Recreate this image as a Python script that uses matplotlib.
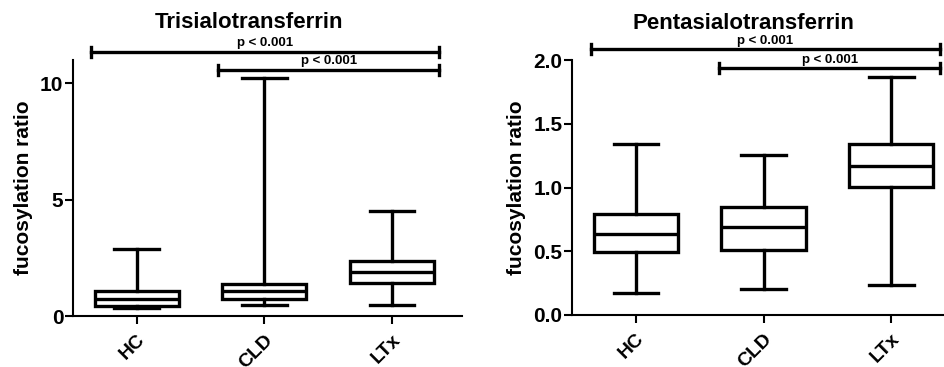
import matplotlib
matplotlib.use("Agg")
import matplotlib.pyplot as plt

plt.rcParams['font.family'] = ['Liberation Sans', 'DejaVu Sans']
plt.rcParams['font.weight'] = 'bold'

groups = ["HC", "CLD", "LTx"]

# Trisialotransferrin: whisker low, q1, median, q3, whisker high
tri_lo = [0.33, 0.46, 0.47]
tri_q1 = [0.44, 0.73, 1.40]
tri_med = [0.73, 1.07, 1.88]
tri_q3 = [1.09, 1.39, 2.35]
tri_hi = [2.87, 10.21, 4.53]

# Pentasialotransferrin
pen_lo = [0.175, 0.207, 0.235]
pen_q1 = [0.497, 0.51, 1.001]
pen_med = [0.635, 0.693, 1.171]
pen_q3 = [0.79, 0.85, 1.341]
pen_hi = [1.341, 1.252, 1.864]

# significance bars: (x start, x end, y, label)
tri_sig = [(0.64, 3.37, 11.36, "p < 0.001"), (1.64, 3.37, 10.57, "p < 0.001")]
pen_sig = [(0.65, 3.38, 2.084, "p < 0.001"), (1.655, 3.38, 1.935, "p < 0.001")]

LW = 2.4
SW = 1.5


def draw_panel(ax, lo, q1, med, q3, hi, sig, title, ylim, yticks, ytl, title_x, cap_h):
    stats = []
    for i, g in enumerate(groups):
        stats.append(dict(label=g, whislo=lo[i], q1=q1[i], med=med[i],
                          q3=q3[i], whishi=hi[i]))
    props = dict(color='black', linewidth=LW)
    ax.bxp(stats, positions=[1, 2, 3], widths=0.66, capwidths=0.35,
           showfliers=False, patch_artist=True,
           boxprops=dict(facecolor='white', edgecolor='black', linewidth=LW),
           medianprops=props, whiskerprops=props, capprops=props)
    ax.set_xlim(0.5, 3.55)
    ax.set_ylim(*ylim)
    ax.set_yticks(yticks)
    ax.set_yticklabels(ytl, fontsize=15, fontweight='bold')
    ax.set_xticks([1, 2, 3])
    ax.set_xticklabels(groups, fontsize=14, fontweight='bold', rotation=45,
                       ha='right', va='top', rotation_mode='anchor')
    ax.spines['top'].set_visible(False)
    ax.spines['right'].set_visible(False)
    for s in ['left', 'bottom']:
        ax.spines[s].set_linewidth(SW)
    ax.tick_params(axis='both', direction='out', length=6, width=SW)
    ax.tick_params(axis='y', pad=1)
    ax.tick_params(axis='x', pad=5)
    ax.set_ylabel("fucosylation ratio", fontsize=15, fontweight='bold', labelpad=5)
    ax.text(title_x, 1.145, title, transform=ax.transAxes, ha='center',
            va='center', fontsize=16, fontweight='bold')
    for x0, x1, y, lab in sig:
        ax.plot([x0, x1], [y, y], color='black', lw=LW, clip_on=False)
        for xx in (x0, x1):
            ax.plot([xx, xx], [y - cap_h, y + cap_h], color='black', lw=LW,
                    clip_on=False)
        ax.text((x0 + x1) / 2, y + cap_h * 0.5, lab, ha='center', va='bottom',
                fontsize=9.5, fontweight='bold')


fig = plt.figure(figsize=(9.44, 3.67), dpi=100)
ax1 = fig.add_axes([73 / 944, 1 - 316 / 367, 389 / 944, 256 / 367])
ax2 = fig.add_axes([572 / 944, 1 - 315 / 367, 389.5 / 944, 255 / 367])

draw_panel(ax1, tri_lo, tri_q1, tri_med, tri_q3, tri_hi, tri_sig,
           "Trisialotransferrin", (0, 11), [0, 5, 10], ["0", "5", "10"],
           0.452, 0.22)
draw_panel(ax2, pen_lo, pen_q1, pen_med, pen_q3, pen_hi, pen_sig,
           "Pentasialotransferrin", (0, 2.0), [0, 0.5, 1.0, 1.5, 2.0],
           ["0.0", "0.5", "1.0", "1.5", "2.0"], 0.44, 0.04)

fig.savefig("out.png", dpi=100)
